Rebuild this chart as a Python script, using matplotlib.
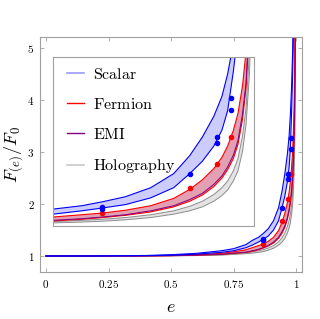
import matplotlib
matplotlib.use('Agg')
import matplotlib.pyplot as plt
from matplotlib.lines import Line2D

plt.rcParams['mathtext.fontset'] = 'cm'

# eccentricity grid shared by all curves
e = [0, 0.2, 0.4, 0.5, 0.6, 0.7, 0.75, 0.8, 0.825, 0.85, 0.868, 0.888, 0.91, 0.93,
     0.944, 0.955, 0.965, 0.972, 0.977, 0.982, 0.986, 0.99, 0.993, 0.996, 0.998]

scalar_hi = [1.0, 1.001, 1.01, 1.025, 1.05, 1.10, 1.14, 1.22, 1.30, 1.36, 1.43, 1.52, 1.68, 1.93,
             2.25, 2.58, 2.95, 3.30, 3.70, 4.25, 4.9, 5.8, 6.8, 8.5, 11.0]
scalar_lo = [1.0, 1.0, 1.005, 1.015, 1.035, 1.07, 1.10, 1.16, 1.21, 1.27, 1.32, 1.38, 1.50, 1.68,
             1.93, 2.15, 2.42, 2.70, 3.05, 3.75, 4.45, 5.4, 6.4, 8.0, 10.5]
fermion_hi = [1.0, 1.0, 1.004, 1.01, 1.025, 1.05, 1.08, 1.12, 1.16, 1.20, 1.23, 1.28, 1.36, 1.49,
              1.65, 1.82, 2.02, 2.22, 2.42, 2.70, 3.0, 3.5, 4.1, 5.4, 7.5]
fermion_lo = [1.0, 1.0, 1.002, 1.006, 1.015, 1.03, 1.05, 1.07, 1.09, 1.12, 1.15, 1.19, 1.25, 1.34,
              1.44, 1.55, 1.70, 1.85, 2.00, 2.20, 2.45, 2.9, 3.45, 4.5, 6.5]
emi = [1.0, 1.0, 1.002, 1.007, 1.017, 1.033, 1.055, 1.075, 1.10, 1.13, 1.16, 1.20, 1.27, 1.36,
       1.47, 1.58, 1.74, 1.89, 2.05, 2.26, 2.52, 3.0, 3.55, 4.7, 6.7]
holo_hi = [1.0, 1.0, 1.002, 1.005, 1.012, 1.025, 1.04, 1.06, 1.08, 1.10, 1.12, 1.15, 1.20, 1.27,
           1.35, 1.44, 1.56, 1.68, 1.80, 1.98, 2.2, 2.6, 3.1, 4.1, 5.8]
holo_lo = [1.0, 1.0, 1.001, 1.003, 1.008, 1.018, 1.03, 1.045, 1.055, 1.07, 1.085, 1.11, 1.15, 1.21,
           1.27, 1.34, 1.44, 1.54, 1.64, 1.80, 1.98, 2.33, 2.8, 3.7, 5.2]

# numerical points
scalar_pts_e = [0.868, 0.868, 0.944, 0.968, 0.968, 0.98, 0.98]
scalar_pts_f = [1.33, 1.30, 1.93, 2.58, 2.48, 3.27, 3.05]
fermion_pts_e = [0.868, 0.944, 0.968, 0.98]
fermion_pts_f = [1.23, 1.67, 2.10, 2.58]

xticks = [0, 0.25, 0.5, 0.75, 1]
xticklabels = ['$0$', '$0.25$', '$0.5$', '$0.75$', '$1$']
yticks = [1, 2, 3, 4, 5]
yticklabels = ['$1$', '$2$', '$3$', '$4$', '$5$']

frame = '#a0a0a0'


def draw(ax):
    ax.fill_between(e, holo_lo, holo_hi, color='#e3e3e3', lw=0)
    ax.plot(e, holo_lo, color='#8c8c8c', lw=0.7)
    ax.plot(e, holo_hi, color='#8c8c8c', lw=0.7)
    ax.fill_between(e, fermion_lo, fermion_hi, color='#e2a0b2', lw=0)
    ax.plot(e, fermion_lo, color='red', lw=0.8)
    ax.plot(e, fermion_hi, color='red', lw=0.8)
    ax.plot(e, emi, color='#800080', lw=0.7)
    ax.fill_between(e, scalar_lo, scalar_hi, color='#ccccff', lw=0)
    ax.plot(e, scalar_lo, color='blue', lw=0.8)
    ax.plot(e, scalar_hi, color='blue', lw=0.8)
    ax.plot(fermion_pts_e, fermion_pts_f, 'o', color='red', ms=3)
    ax.plot(scalar_pts_e, scalar_pts_f, 'o', color='blue', ms=3)
    for s in ax.spines.values():
        s.set_color(frame)


fig = plt.figure(figsize=(3.2, 3.19), dpi=100)
ax = fig.add_axes([0.125, 0.147, 0.819, 0.737])
draw(ax)
ax.set_xlim(-0.024, 1.024)
ax.set_ylim(0.69, 5.21)
ax.set_xticks(xticks)
ax.set_xticklabels(xticklabels)
ax.set_yticks(yticks)
ax.set_yticklabels(yticklabels)
ax.tick_params(direction='in', length=3, width=0.6, color=frame, labelsize=8,
               top=True, right=True, pad=4)
ax.set_xlabel('$e$', fontsize=13, labelpad=6)
ax.set_ylabel('$F_{(e)}/F_0$', fontsize=13, labelpad=1)

ins = fig.add_axes([0.166, 0.2915, 0.628, 0.53])
draw(ins)
ins.set_xlim(0.825, 1.0)
ins.set_ylim(1.0, 4.0)
ins.set_xticks([])
ins.set_yticks([])

handles = [Line2D([], [], color='#9999ff', lw=1.2),
           Line2D([], [], color='red', lw=1.0),
           Line2D([], [], color='#800080', lw=1.0),
           Line2D([], [], color='#c8c8c8', lw=1.2)]
labels = [r'$\mathrm{Scalar}$', r'$\mathrm{Fermion}$', r'$\mathrm{EMI}$', r'$\mathrm{Holography}$']
ins.legend(handles, labels, loc='upper left', frameon=False, fontsize=11.5,
           handlelength=1.1, handletextpad=0.55, labelspacing=0.95,
           borderaxespad=0.0, bbox_to_anchor=(0.035, 0.98))

fig.savefig('out.png', dpi=100)
